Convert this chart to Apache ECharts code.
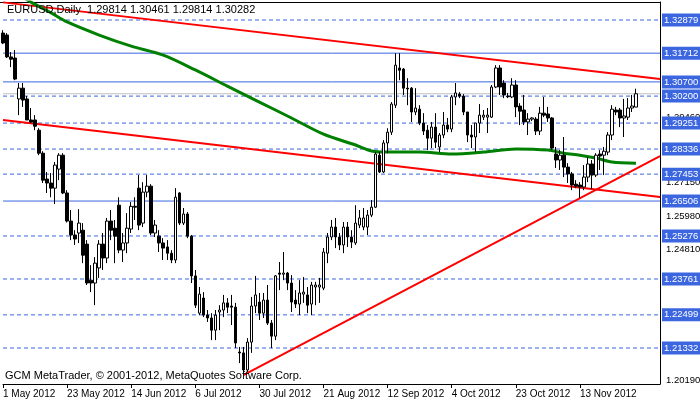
<!DOCTYPE html>
<html>
<head>
<meta charset="utf-8">
<title>EURUSD Daily</title>
<style>*{margin:0;padding:0}html,body,#chart{width:700px;height:402px;background:#fff}</style>
</head>
<body>
<div id="chart"></div>
<script src="https://cdn.jsdelivr.net/npm/echarts@6/dist/echarts.min.js"></script>
<script>
// date labels every 16 bars
var dateLabels = ['1 May 2012','23 May 2012','14 Jun 2012','6 Jul 2012','30 Jul 2012','21 Aug 2012','12 Sep 2012','4 Oct 2012','23 Oct 2012','13 Nov 2012'];
var slotCount = 165;

// [open, close, low, high]
var candles = [
[1.3242,1.3207,1.3203,1.3252],[1.3235,1.3158,1.3154,1.3242],[1.3158,1.3150,1.3122,1.3175],[1.3154,1.3080,1.3076,1.3182],
[1.3010,1.3048,1.2953,1.3066],[1.3048,1.3006,1.2982,1.3066],[1.3010,1.2936,1.2936,1.3020],[1.2936,1.2929,1.2925,1.2978],
[1.2936,1.2914,1.2900,1.2953],[1.2900,1.2819,1.2812,1.2907],[1.2819,1.2724,1.2714,1.2826],[1.2728,1.2714,1.2679,1.2753],
[1.2714,1.2696,1.2664,1.2749],[1.2696,1.2777,1.2640,1.2788],[1.2763,1.2812,1.2724,1.2819],[1.2812,1.2679,1.2675,1.2819],
[1.2679,1.2580,1.2575,1.2689],[1.2580,1.2531,1.2513,1.2619],[1.2531,1.2517,1.2496,1.2548],[1.2538,1.2573,1.2503,1.2622],
[1.2548,1.2460,1.2432,1.2573],[1.2499,1.2362,1.2355,1.2513],[1.2372,1.2362,1.2330,1.2425],[1.2362,1.2432,1.2284,1.2453],
[1.2415,1.2499,1.2380,1.2513],[1.2499,1.2450,1.2408,1.2538],[1.2450,1.2580,1.2432,1.2591],[1.2580,1.2548,1.2513,1.2619],
[1.2555,1.2527,1.2432,1.2584],[1.2636,1.2478,1.2467,1.2664],[1.2478,1.2503,1.2436,1.2538],[1.2503,1.2555,1.2467,1.2608],
[1.2552,1.2632,1.2538,1.2647],[1.2632,1.2629,1.2584,1.2664],[1.2696,1.2566,1.2548,1.2742],[1.2573,1.2682,1.2559,1.2717],
[1.2682,1.2703,1.2664,1.2742],[1.2703,1.2538,1.2531,1.2710],[1.2538,1.2566,1.2524,1.2584],[1.2527,1.2503,1.2471,1.2548],
[1.2503,1.2485,1.2443,1.2520],[1.2489,1.2467,1.2443,1.2513],[1.2467,1.2443,1.2432,1.2478],[1.2443,1.2664,1.2432,1.2696],
[1.2679,1.2573,1.2566,1.2682],[1.2573,1.2605,1.2566,1.2626],[1.2605,1.2527,1.2520,1.2612],[1.2527,1.2387,1.2362,1.2531],
[1.2387,1.2284,1.2274,1.2408],[1.2256,1.2323,1.2249,1.2348],[1.2309,1.2249,1.2242,1.2330],[1.2249,1.2239,1.2225,1.2267],
[1.2239,1.2196,1.2161,1.2256],[1.2196,1.2249,1.2161,1.2267],[1.2260,1.2267,1.2196,1.2284],[1.2267,1.2292,1.2242,1.2320],
[1.2292,1.2277,1.2256,1.2309],[1.2281,1.2277,1.2214,1.2320],[1.2277,1.2151,1.2133,1.2292],[1.2119,1.2116,1.2080,1.2137],
[1.2116,1.2056,1.2049,1.2137],[1.2056,1.2154,1.2049,1.2168],[1.2154,1.2281,1.2116,1.2313],[1.2281,1.2320,1.2256,1.2387],
[1.2295,1.2256,1.2232,1.2327],[1.2256,1.2302,1.2239,1.2327],[1.2302,1.2221,1.2214,1.2355],[1.2221,1.2175,1.2133,1.2232],
[1.2175,1.2387,1.2161,1.2390],[1.2397,1.2393,1.2337,1.2436],[1.2393,1.2397,1.2372,1.2471],[1.2397,1.2362,1.2337,1.2401],
[1.2362,1.2295,1.2260,1.2390],[1.2302,1.2288,1.2274,1.2337],[1.2288,1.2327,1.2249,1.2372],[1.2323,1.2330,1.2292,1.2383],
[1.2320,1.2284,1.2256,1.2348],[1.2288,1.2355,1.2249,1.2366],[1.2348,1.2355,1.2284,1.2366],[1.2348,1.2355,1.2292,1.2380],
[1.2344,1.2471,1.2337,1.2485],[1.2467,1.2524,1.2432,1.2538],[1.2524,1.2559,1.2513,1.2584],[1.2559,1.2524,1.2485,1.2591],
[1.2524,1.2496,1.2478,1.2538],[1.2496,1.2559,1.2467,1.2577],[1.2559,1.2524,1.2489,1.2577],[1.2524,1.2506,1.2485,1.2548],
[1.2503,1.2573,1.2496,1.2636],[1.2566,1.2591,1.2555,1.2619],[1.2559,1.2591,1.2548,1.2626],[1.2559,1.2601,1.2531,1.2619],
[1.2601,1.2629,1.2594,1.2654],[1.2629,1.2816,1.2626,1.2823],[1.2812,1.2753,1.2749,1.2823],[1.2753,1.2855,1.2749,1.2865],
[1.2855,1.2893,1.2819,1.2907],[1.2893,1.2992,1.2883,1.2999],[1.2988,1.3129,1.2978,1.3171],[1.3119,1.3111,1.3076,1.3171],
[1.3115,1.3048,1.3024,1.3119],[1.3048,1.3045,1.2988,1.3083],[1.3048,1.2964,1.2929,1.3052],[1.2964,1.2978,1.2953,1.3048],
[1.2974,1.2925,1.2918,1.2988],[1.2925,1.2897,1.2883,1.2960],[1.2900,1.2872,1.2830,1.2918],[1.2872,1.2911,1.2837,1.2929],
[1.2911,1.2858,1.2837,1.2960],[1.2841,1.2883,1.2823,1.2890],[1.2883,1.2918,1.2872,1.2964],[1.2918,1.2904,1.2893,1.2943],
[1.2904,1.3017,1.2893,1.3024],[1.3017,1.3031,1.2988,1.3066],[1.3027,1.3020,1.3013,1.3034],[1.3020,1.2964,1.2953,1.3027],
[1.2964,1.2883,1.2858,1.2964],[1.2883,1.2876,1.2837,1.2918],[1.2876,1.2925,1.2823,1.2925],[1.2925,1.2953,1.2890,1.2992],
[1.2946,1.2953,1.2936,1.2971],[1.2946,1.2953,1.2890,1.2978],[1.2946,1.3052,1.2943,1.3059],[1.3052,1.3119,1.3048,1.3129],
[1.3119,1.3052,1.3024,1.3129],[1.3066,1.3024,1.3013,1.3076],[1.3020,1.3018,1.3013,1.3031],[1.3017,1.3059,1.3013,1.3083],
[1.3059,1.2982,1.2946,1.3076],[1.2985,1.2967,1.2918,1.2995],[1.2971,1.2929,1.2918,1.3024],[1.2929,1.2939,1.2883,1.2960],
[1.2939,1.2943,1.2932,1.2946],[1.2939,1.2897,1.2883,1.2946],[1.2897,1.2960,1.2883,1.2982],[1.2960,1.2953,1.2946,1.3017],
[1.2957,1.2943,1.2929,1.2982],[1.2943,1.2837,1.2830,1.2946],[1.2816,1.2795,1.2767,1.2841],[1.2795,1.2812,1.2760,1.2830],
[1.2812,1.2770,1.2735,1.2876],[1.2770,1.2746,1.2714,1.2784],[1.2746,1.2707,1.2689,1.2753],[1.2710,1.2703,1.2696,1.2724],
[1.2707,1.2700,1.2661,1.2717],[1.2700,1.2735,1.2689,1.2777],[1.2735,1.2781,1.2717,1.2805],[1.2781,1.2742,1.2693,1.2795],
[1.2742,1.2812,1.2735,1.2819],[1.2816,1.2809,1.2760,1.2830],[1.2812,1.2826,1.2742,1.2841],[1.2823,1.2883,1.2812,1.2893],
[1.2883,1.2974,1.2865,1.2988],[1.2971,1.2964,1.2953,1.2982],[1.2971,1.2943,1.2911,1.2978],[1.2943,1.2950,1.2876,1.3010],
[1.2946,1.2978,1.2936,1.3013],[1.2978,1.2985,1.2964,1.3024],[1.29814,1.30282,1.29814,1.30461]
];

// moving average: [bar index, value]
var maPoints = [[0,1.3411],[7,1.3351],[12,1.3313],[16,1.3281],[24,1.3235],[32,1.3196],[40,1.3164],[48,1.3112],
[56,1.3055],[64,1.2999],[72,1.2943],[80,1.2886],[88,1.2848],[92,1.2827],[96,1.2823],[104,1.2823],[112,1.2816],
[120,1.2823],[128,1.2834],[136,1.2830],[140,1.2819],[144,1.2812],[148,1.2802],[152,1.2788],[158,1.2784]];

// trend lines: [[index, price],[index, price]]
var trendUpper = [[0,1.3350],[164,1.3080]];
var trendLower = [[0,1.2936],[164,1.2665]];
var trendRise = [[60,1.2038],[164,1.2809]];

var solidLevels = [1.31712, 1.30700, 1.26506];
var dashedLevels = [1.32879, 1.30200, 1.29251, 1.28336, 1.27453, 1.25276, 1.23761, 1.22499, 1.21332];
var axisLevels = [1.29460, 1.27150, 1.25980, 1.24810, 1.20190];
var lastPrice = 1.30282;

var categories = [];
for (var i = 0; i < slotCount; i++) {
    categories.push(i % 16 === 0 && dateLabels[i / 16] ? dateLabels[i / 16] : '');
}

function idxLine(pts) {
    var d = [];
    for (var i = 0; i < slotCount; i++) d.push(null);
    pts.forEach(function (p) { d[p[0]] = p[1]; });
    return d;
}

var blue = '#3b66e0';
var font = 'Liberation Sans';

// one flat line series per horizontal level, label drawn as end label
function levelSeries(v, lineStyle, label, z) {
    return {
        type: 'line', data: idxLine([[0, v], [slotCount - 1, v]]), connectNulls: true,
        symbol: 'none', silent: true, z: z, lineStyle: lineStyle,
        endLabel: label ? Object.assign({ show: true, formatter: v.toFixed(5), fontSize: 9.5, fontFamily: font, distance: 2 }, label) : { show: false }
    };
}
var boxLabel = { color: '#fff', backgroundColor: blue, padding: [2, 2, 1, 2] };

var series = [];
axisLevels.forEach(function (v) {
    series.push(levelSeries(v, { width: 1, color: 'rgba(255,255,255,0)' }, { color: '#000', padding: [0, 2, 0, 4] }, 1));
});
series.push(levelSeries(lastPrice, { color: '#c0c0c0', width: 1 }, null, 1));
solidLevels.forEach(function (v) {
    series.push(levelSeries(v, { color: blue, width: 1 }, boxLabel, 2));
});
dashedLevels.forEach(function (v) {
    series.push(levelSeries(v, { color: blue, width: 1, type: [4, 3] }, boxLabel, 2));
});
[trendUpper, trendLower, trendRise].forEach(function (t) {
    series.push({ type: 'line', data: idxLine(t), connectNulls: true, symbol: 'none', silent: true, lineStyle: { color: '#ff0000', width: 2 }, z: 3 });
});
series.push({ type: 'line', data: idxLine(maPoints), connectNulls: true, smooth: 0.3, symbol: 'none', silent: true, lineStyle: { color: '#008000', width: 3 }, z: 4 });
series.push({
    type: 'candlestick', data: candles, barWidth: 3, z: 5,
    itemStyle: { color: '#fff', color0: '#000', borderColor: '#000', borderColor0: '#000', borderWidth: 1 }
});

var chart = echarts.init(document.getElementById('chart'));
chart.setOption({
    animation: false,
    backgroundColor: '#fff',
    textStyle: { fontFamily: font },
    grid: { left: 3, right: 40, top: 2, bottom: 18, containLabel: false, outerBoundsMode: 'none' },
    xAxis: {
        type: 'category', data: categories, boundaryGap: false,
        axisLine: { lineStyle: { color: '#000' } },
        axisTick: { interval: function (i) { return i % 16 === 0 && i < 160; }, length: 4, lineStyle: { color: '#000' } },
        axisLabel: { interval: function (i) { return i % 16 === 0 && i < 160; }, color: '#000', fontSize: 10, fontFamily: font, align: 'left', margin: 5 },
        splitLine: { show: false }
    },
    yAxis: {
        type: 'value', position: 'right', min: 1.20065, max: 1.33513,
        axisLine: { show: true, lineStyle: { color: '#000' } },
        axisTick: { show: false }, axisLabel: { show: false }, splitLine: { show: false }
    },
    graphic: [
        { type: 'text', left: 7, top: 4, style: { text: 'EURUSD,Daily  1.29814 1.30461 1.29814 1.30282', font: '11px ' + font, fill: '#000' }, z: 100 },
        { type: 'text', left: 5, top: 370, style: { text: 'GCM MetaTrader, © 2001-2012, MetaQuotes Software Corp.', font: '11px ' + font, fill: '#000' }, z: 100 },
        { type: 'rect', left: 0, top: 2, shape: { width: 660, height: 1 }, style: { fill: '#000' } }
    ],
    series: series
});
</script>
</body>
</html>
